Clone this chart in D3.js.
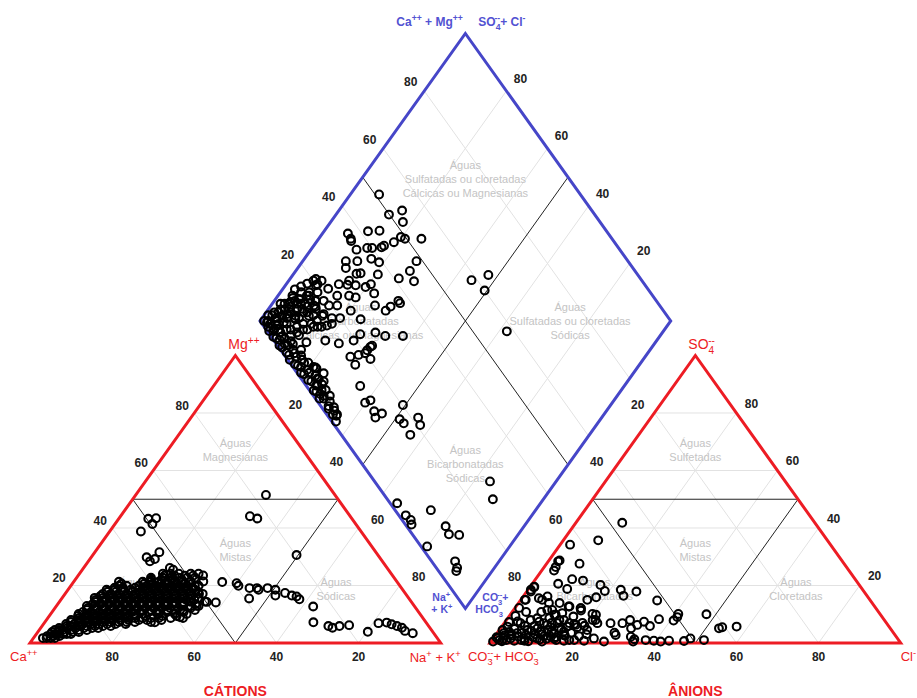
<!DOCTYPE html>
<html lang="pt">
<head>
<meta charset="utf-8" />
<title>Diagrama de Piper</title>
<script src="https://cdn.jsdelivr.net/npm/d3@7"></script>
<style>
body { margin: 0; background: #fff; }
svg { font-family: Arial, "Liberation Sans", sans-serif; }
</style>
</head>
<body>
<svg width="917" height="698"></svg>
<script>
//	tick values on every axis
const ticks = [20, 40, 60, 80];

//	cation triangle: [Mg %, Na+K %] (Ca % = the rest)
const cations = [
  [1.7,2.3],[1.7,3.2],[1.7,4.2],[1.7,5.2],
  [3.1,3.5],[3.1,4.5],[3.1,5.5],[3.1,6.5],[3.1,7.4],[3.1,8.4],
  [4.5,3.8],[4.5,4.8],[4.5,5.7],[4.5,7.7],[4.5,9.6],[4.5,11.6],
  [5.9,6.0],[5.9,7.0],[5.9,9.0],[5.9,10.9],[5.9,12.9],[5.9,14.8],[5.9,16.7],
  [7.3,6.3],[7.3,8.2],[7.3,10.2],[7.3,12.1],[7.3,14.1],[7.3,16.0],[7.3,18.0],[7.3,19.9],[7.3,21.9],[7.3,25.8],
  [8.7,7.6],[8.7,9.5],[8.7,11.5],[8.7,13.4],[8.7,15.3],[8.7,17.3],[8.7,19.2],[8.7,21.2],[8.7,23.1],[8.7,25.1],[8.7,27.0],[8.7,29.9],[8.7,32.9],
  [10.1,6.8],[10.1,8.8],[10.1,10.7],[10.1,12.7],[10.1,14.6],[10.1,16.6],[10.1,18.5],[10.1,20.5],[10.1,22.4],[10.1,26.3],[10.1,30.2],[10.1,33.1],
  [11.5,8.1],[11.5,10.1],[11.5,12.0],[11.5,13.9],[11.5,15.9],[11.5,17.8],[11.5,19.8],[11.5,21.7],[11.5,23.7],[11.5,25.6],[11.5,27.6],[11.5,29.5],[11.5,31.5],[11.5,34.4],
  [12.9,7.4],[12.9,9.3],[12.9,11.3],[12.9,13.2],[12.9,15.2],[12.9,17.1],[12.9,19.1],[12.9,21.0],[12.9,23.0],[12.9,24.9],[12.9,26.9],[12.9,28.8],[12.9,30.8],[12.9,32.7],[12.9,34.6],
  [14.3,8.7],[14.3,10.6],[14.3,12.5],[14.3,14.5],[14.3,16.4],[14.3,18.4],[14.3,20.3],[14.3,22.3],[14.3,24.2],[14.3,26.2],[14.3,28.1],[14.3,30.1],[14.3,32.0],[14.3,35.9],
  [15.7,7.9],[15.7,9.9],[15.7,11.8],[15.7,13.8],[15.7,15.7],[15.7,17.7],[15.7,19.6],[15.7,21.6],[15.7,23.5],[15.7,25.5],[15.7,27.4],[15.7,29.4],[15.7,31.3],[15.7,33.2],
  [17.1,9.2],[17.1,11.1],[17.1,13.1],[17.1,15.0],[17.1,17.0],[17.1,18.9],[17.1,20.9],[17.1,22.8],[17.1,24.8],[17.1,26.7],[17.1,28.7],[17.1,30.6],[17.1,32.6],[17.1,33.5],
  [18.5,9.4],[18.5,11.4],[18.5,13.3],[18.5,15.3],[18.5,17.2],[18.5,19.2],[18.5,21.1],[18.5,23.1],[18.5,25.0],[18.5,27.0],[18.5,28.9],[18.5,30.9],
  [19.9,11.7],[19.9,13.6],[19.9,16.6],[19.9,18.5],[19.9,20.5],[19.9,22.4],[19.9,24.4],[19.9,26.3],[19.9,28.3],[19.9,30.2],[19.9,31.1],
  [21.3,11.0],[21.3,16.8],[21.3,18.8],[21.3,20.7],[21.3,22.7],[21.3,24.6],[21.3,26.6],[21.3,28.5],
  [22.7,18.1],[22.7,21.0],[22.7,23.0],[22.7,24.9],[22.7,26.9],[22.7,28.8],
  [24.1,20.3],[24.1,22.2],[24.1,24.2],[24.1,27.1],[24.1,29.0],[25.5,22.1],
  [2.4,3.0],[2.4,4.5],[2.4,6.0],
  [3.8,3.5],[3.8,5.0],[3.8,6.5],[3.8,8.5],[3.8,10.0],
  [5.2,4.5],[5.2,6.5],[5.2,8.5],[5.2,10.5],[5.2,12.5],[5.2,14.0],
  [6.6,5.5],[6.6,7.5],[6.6,9.5],[6.6,11.5],[6.6,13.5],[6.6,15.5],[6.6,17.5],[6.6,20.0],
  [8.0,6.0],[8.0,8.0],[8.0,10.0],[8.0,12.0],[8.0,14.0],[8.0,16.0],[8.0,18.0],[8.0,20.0],[8.0,22.5],[8.0,24.5],[8.0,28.0],
  [9.4,7.0],[9.4,9.0],[9.4,11.0],[9.4,13.0],[9.4,15.0],[9.4,17.0],[9.4,19.0],[9.4,21.0],[9.4,23.5],[9.4,27.5],[9.4,31.0],
  [10.8,7.5],[10.8,9.5],[10.8,11.5],[10.8,13.5],[10.8,15.5],[10.8,17.5],[10.8,19.5],[10.8,21.5],[10.8,23.5],[10.8,25.5],[10.8,28.0],[10.8,32.0],
  [12.2,8.0],[12.2,10.0],[12.2,12.0],[12.2,14.0],[12.2,16.0],[12.2,18.0],[12.2,20.0],[12.2,22.0],[12.2,24.0],[12.2,26.0],[12.2,28.0],[12.2,30.0],[12.2,33.0],
  [13.6,8.5],[13.6,10.5],[13.6,12.5],[13.6,14.5],[13.6,16.5],[13.6,18.5],[13.6,20.5],[13.6,22.5],[13.6,24.5],[13.6,26.5],[13.6,28.5],[13.6,30.5],[13.6,33.5],
  [15.0,8.5],[15.0,10.5],[15.0,12.5],[15.0,14.5],[15.0,16.5],[15.0,18.5],[15.0,20.5],[15.0,22.5],[15.0,24.5],[15.0,26.5],[15.0,28.5],[15.0,30.5],[15.0,32.5],
  [16.4,9.0],[16.4,11.0],[16.4,13.0],[16.4,15.0],[16.4,17.0],[16.4,19.0],[16.4,21.0],[16.4,23.0],[16.4,25.0],[16.4,27.0],[16.4,29.0],[16.4,31.0],
  [17.8,10.0],[17.8,12.0],[17.8,14.0],[17.8,16.0],[17.8,18.0],[17.8,20.0],[17.8,22.0],[17.8,24.0],[17.8,26.0],[17.8,28.0],[17.8,30.0],[17.8,32.0],
  [19.2,11.0],[19.2,13.0],[19.2,16.0],[19.2,18.0],[19.2,20.0],[19.2,22.0],[19.2,24.0],[19.2,26.0],[19.2,28.0],[19.2,30.0],
  [20.6,12.0],[20.6,17.5],[20.6,19.5],[20.6,21.5],[20.6,23.5],[20.6,25.5],[20.6,27.5],
  [22.0,18.5],[22.0,21.0],[22.0,23.5],[22.0,26.0],[23.4,21.0],[23.4,23.5],[23.4,26.0],[23.4,28.0],
  [51.5,31.7],[44.1,31.5],[43.3,33.7],[43.2,7.2],[43.4,9.0],[41.4,9.1],[38.8,7.6],
  [29.8,13.5],[31.6,15.7],[29.2,15.8],[28.4,15.0],[30.6,49.6],
  [21.2,36.2],[20.8,39.9],[19.9,40.8],[19.1,43.9],[19.1,45.7],[18.5,46.4],[15.5,45.6],
  [19.1,48.3],[18.5,50.5],[16.5,51.5],[17.4,53.4],[16.5,55.5],[16.2,56.8],[15.2,58.0],
  [12.7,62.6],[7.2,65.4],[5.9,69.7],[5.3,71.0],[5.9,72.4],[6.2,74.6],[3.9,80.3],
  [6.9,81.4],[7.1,83.3],[6.5,84.8],[5.9,86.4],[5.3,87.9],[4.2,89.2],[3.4,91.5],
  [26.1,21.0],[23.5,30.4],[21.4,31.5],[14.1,38.2],[12.9,34.1],[9.0,32.0],[7.2,26.8],[14.4,35.4]
];

//	anion triangle: [SO4 %, Cl %] (CO3+HCO3 % = the rest)
const anions = [
  [41.8,11.3],[35.7,8.5],[34.2,2.4],[28.4,2.4],[28.7,2.6],[25.2,3.0],[26.4,2.8],[27.6,8.0],
  [20.6,6.3],[18.8,9.4],[22.2,8.9],[21.7,11.8],[20.2,16.8],[18.1,18.9],[18.5,22.6],[16.4,24.3],
  [17.9,26.7],[14.8,33.3],[10.1,40.8],[9.0,41.1],[7.8,40.8],[10.0,47.7],[5.1,53.2],[5.5,53.8],
  [5.7,57.2],[1.6,48.0],[1.0,51.6],[15.9,17.9],[15.0,16.2],[12.1,16.0],[11.3,16.5],[10.1,19.9],
  [8.0,21.7],[6.9,22.7],[6.9,25.9],[6.9,28.8],[8.0,30.1],[5.1,31.8],[6.3,32.7],[7.4,33.8],
  [5.9,36.0],[8.3,37.0],[3.6,28.5],[2.8,29.2],[2.2,33.2],[1.3,34.5],[0.5,34.6],[1.0,37.4],
  [0.8,39.5],[0.5,41.3],[0.8,43.2],[0.7,46.9],[0.5,27.5],[0.8,22.5],[1.6,24.5],[1.0,20.0],
  [0.8,17.6],[1.6,14.8],[12.7,12.8],[10.4,12.4],[9.2,15.7],[6.3,17.7],[5.7,16.0],[5.1,14.2],
  [8.0,14.0],[6.9,13.0],[18.5,0.7],[19.4,1.0],[15.0,1.2],[15.6,4.1],[15.0,5.2],[16.2,5.9],
  [13.9,7.4],[11.5,9.4],[9.8,11.1],[11.5,8.2],[5.7,1.4],[6.9,4.0],[8.0,5.9],[8.6,7.2],
  [6.9,9.7],[3.4,1.7],[3.4,4.9],[4.5,6.8],[5.1,9.0],[4.5,11.7],[3.4,13.9],[1.6,1.0],
  [1.6,4.2],[1.6,7.5],[1.6,10.7],[2.2,13.7],[2.8,16.6],[7.4,8.3],[9.8,10.8],[8.0,12.9],
  [6.9,15.9],[6.6,17.2],[8.0,21.0],[9.8,20.9],[12.1,16.1],[12.7,13.0],[13.9,10.0],[19.6,1.0],
  [17.9,1.0],[15.0,1.0],[1.0,1.8],[1.0,3.5],[3.1,3.7],[4.9,3.5],[1.0,7.1],[2.8,7.4],
  [4.2,8.0],[5.9,7.9],[2.4,12.0],[6.3,10.8],[1.0,15.6],[4.9,14.9],[10.8,7.1],[8.7,10.1],
  [10.8,3.4],[12.2,1.0],[9.4,1.5],[7.3,1.0],[4.5,0.8],[1.0,18.8],[2.4,20.5],[4.5,21.4],
  [0.5,0.5],[2.0,0.6],[0.6,2.6],[2.6,2.2],[3.8,2.8],[0.8,5.5],[2.2,5.8],[3.0,9.5],
  [0.6,9.0],[0.5,12.4],[1.2,11.5],[2.0,15.0],[3.5,18.0],[4.0,10.5],[6.0,5.5],[7.5,3.0],
  [1.5,2.5],[2.5,4.0],[3.5,6.0],[0.8,8.0],[2.0,9.5],[3.0,11.0],[1.5,13.0],[4.0,13.0],
  [5.5,12.0],[7.0,11.5],[2.5,17.0],[4.0,16.0],[5.5,18.5],[7.0,19.0],[3.0,22.0],[6.0,20.0]
];

//	diamond: [Na+K %, SO4+Cl %]
const diamond = [
  [7.0,51.0],[12.9,49.9],[15.4,53.8],[17.6,52.0],[6.2,36.6],[7.8,36.4],[8.3,36.1],[10.7,41.9],
  [13.4,44.8],[13.4,38.8],[14.6,40.0],[16.8,42.4],[17.1,43.3],[18.9,46.3],[19.7,48.9],[21.0,49.6],
  [25.0,53.6],[11.1,35.9],[10.5,31.3],[11.7,30.1],[13.3,34.1],[16.3,37.9],[18.8,39.2],[20.6,36.8],
  [27.7,48.5],[27.8,45.2],[30.6,44.4],[26.4,41.2],[15.3,31.7],[16.2,32.8],[14.7,28.7],[17.1,29.5],
  [15.0,27.6],[19.8,31.6],[20.6,33.4],[12.8,25.6],[11.0,22.2],[14.4,23.2],[17.3,26.1],[19.2,27.4],
  [23.0,32.6],[25.3,30.7],[28.8,32.4],[29.3,34.3],[30.2,37.2],[31.0,37.2],[6.3,20.9],[7.6,20.4],
  [7.4,19.8],[44.4,58.6],[47.6,63.6],[49.4,60.0],[24.2,24.8],[61.9,58.3],
  [3.5,12.3],[5.7,13.3],[7.5,16.3],[10.1,17.1],[5.0,9.2],[8.2,12.4],[11.5,15.7],[14.1,19.5],
  [4.5,6.3],[7.8,9.6],[11.0,12.8],[14.3,16.1],[16.1,21.5],[20.3,23.9],[1.9,1.5],[4.9,3.3],
  [5.4,7.8],[6.9,11.1],[4.1,10.7],[6.0,13.6],[7.0,15.8],[8.4,16.0],[10.4,15.8],[9.1,12.1],
  [8.3,8.9],[6.0,5.6],[3.5,4.7],[13.8,13.9],[14.3,16.7],[17.1,15.5],
  [19.3,12.5],[23.1,15.3],[26.2,19.4],[26.7,22.1],[30.1,26.1],[33.1,27.9],[37.4,32.2],
  [28.2,15.8],[30.8,15.6],[29.9,18.1],[31.2,20.0],[31.4,22.4],[31.6,23.0],[33.5,20.3],[31.2,21.0],
  [15.0,7.6],[21.6,5.4],[24.6,6.4],[24.4,4.2],[26.1,4.1],[28.5,2.5],[31.5,1.9],[33.7,2.5],
  [35.1,2.1],[24.9,2.9],[25.2,1.0],[27.4,2.0],[35.7,13.1],[39.8,11.4],[40.7,13.1],[43.5,12.1],
  [45.8,13.6],[44.9,11.3],[49.4,20.2],[51.1,16.9],[52.8,17.2],[56.4,16.8],[55.3,21.7],[57.1,20.9],
  [83.9,28.1],[87.7,25.7],[65.1,1.7],[69.3,1.7],[71.3,2.1],[72.3,1.5],[74.5,8.7],[80.9,9.5],
  [83.1,8.9],[85.7,11.3],[79.9,1.5],[89.3,5.7],[90.9,5.1],[91.3,4.3],
  [3,1],[5,2],[6,0.5],[8,1.5],[9,3],[10,0.8],[11,2.5],[12,4],[13,1.2],[14,2.8],[15,5],[16,1],
  [17,3.5],[18,2],[19,4.5],[20,1.5],[21,3],[22,5.5],[23,2],[24,4],[26,1.5],[27,3],[29,2],[30,4],
  [32,1.5],[33,3],[35,2.5],[36,1],
  [1,3],[2,5],[2,8],[3,2],[4,10],[3,7],[5,4],[6,9],[7,6],[1,1],[2,2],[4,4],[5,12],[6,3],[8,5],
  [9,14],[10,8],[11,10],[12,7],[7,13],[10,17],[12,19],[13,12],[4,16],[5,18],[8,22],[3,14],[6,20],
  [4,0.5],[5,1.5],[7,1],[7,3],[8,2.5],[9,0.5],[10,2],[11,4],[12,1],[13,3],[14,0.5],[15,2.5],
  [16,4],[17,1.5],[18,3.5],[19,1],[20,3],[21,5],[22,1.5],[23,4],[25,2.5],[26,5],[28,1],[28,4],
  [31,3],[34,1.5],
  [2,4],[3,6],[4,8],[5,10],[6,12],[7,11],[8,14],[9,10],[10,13],[11,16],[12,14],[6,7],[8,9],
  [9,6],[10,5],[11,7],[12,9],[13,10],[14,12],[15,13],[16,14],[17,18],[18,17],[19,20],[3,9],
  [4,12],[5,15],[7,17],[9,19]
];

//	layout in equilateral units: side 100, gap 12 between the triangles
var H = Math.sqrt(3) / 2 * 100,
	gap = 12,
	dv = gap * Math.sqrt(3) / 2;

var svg = d3.select("svg");
var x = d3.scaleLinear().domain([0, 212]).range([30, 900.7]);
var y = d3.scaleLinear().domain([0, 100]).range([643, 311]);

var red = "#ed1c24", blue = "#4646c8", blueText = "#5252d2";

//	a = bottom-left, b = bottom-right, c = top
function triPt(ox, a, b, c) { return [ox + b + c / 2, c * H / 100]; }
function catPt(ca, mg, nak) { return triPt(0, ca, nak, mg); }
function anPt(co3, so4, cl) { return triPt(100 + gap, co3, cl, so4); }
function diaPt(nak, sc) {
	var L = [50 + gap / 2, dv + H], D = [100 + gap / 2, dv], T = [100 + gap / 2, dv + 2 * H];
	return [L[0] + nak / 100 * (D[0] - L[0]) + sc / 100 * (T[0] - L[0]),
		L[1] + nak / 100 * (D[1] - L[1]) + sc / 100 * (T[1] - L[1])];
}
function px(p) { return [x(p[0]), y(p[1])]; }

var line = d3.line().x(d => x(d[0])).y(d => y(d[1]));

//	grid
var grid = svg.append("g").attr("stroke", "#e2e2e2").attr("stroke-width", 1).attr("fill", "none");
ticks.forEach(function(f) {
	[catPt, anPt].forEach(function(fn) {
		grid.append("path").attr("d", line([fn(100 - f, f, 0), fn(0, f, 100 - f)]));
		grid.append("path").attr("d", line([fn(f, 100 - f, 0), fn(f, 0, 100 - f)]));
		grid.append("path").attr("d", line([fn(0, 100 - f, f), fn(100 - f, 0, f)]));
	});
	grid.append("path").attr("d", line([diaPt(f, 0), diaPt(f, 100)]));
	grid.append("path").attr("d", line([diaPt(0, f), diaPt(100, f)]));
});

//	classification lines
var cls = svg.append("g").attr("stroke", "#222").attr("stroke-width", 1).attr("fill", "none");
[catPt, anPt].forEach(function(fn) {
	cls.append("path").attr("d", line([fn(50, 50, 0), fn(0, 50, 50)]));
	cls.append("path").attr("d", line([fn(50, 50, 0), fn(50, 0, 50)]));
	cls.append("path").attr("d", line([fn(0, 50, 50), fn(50, 0, 50)]));
});
cls.append("path").attr("d", line([diaPt(50, 0), diaPt(50, 100)]));
cls.append("path").attr("d", line([diaPt(0, 50), diaPt(100, 50)]));

//	region names
var regions = [
	[50, 58.0, ["Águas", "Magnesianas"]],
	[50, 28.0, ["Águas", "Mistas"]],
	[25.5, 16.1, ["Águas", "Cálcicas"]],
	[74.5, 16.1, ["Águas", "Sódicas"]],
	[162, 58.0, ["Águas", "Sulfetadas"]],
	[162, 28.0, ["Águas", "Mistas"]],
	[137.5, 16.1, ["Águas", "Bicarbonatadas"]],
	[186.5, 16.1, ["Águas", "Cloretadas"]],
	[106, 139.8, ["Águas", "Sulfatadas ou cloretadas", "Cálcicas ou Magnesianas"]],
	[131.5, 97, ["Águas", "Sulfatadas ou cloretadas", "Sódicas"]],
	[106, 53.9, ["Águas", "Bicarbonatadas", "Sódicas"]],
	[80.5, 97, ["Águas", "Bicarbonatadas", "Cálcicas ou Magnesianas"]]
];
var reg = svg.append("g").attr("fill", "#c4c4c4").attr("font-size", 11).attr("text-anchor", "middle");
regions.forEach(function(r) {
	var n = r[2].length;
	r[2].forEach(function(s, i) {
		reg.append("text")
			.attr("x", x(r[0]))
			.attr("y", y(r[1]) + (i - (n - 1) / 2) * 14)
			.attr("dy", "0.35em")
			.text(s);
	});
});

//	outlines
svg.append("path").attr("d", line([catPt(100, 0, 0), catPt(0, 0, 100), catPt(0, 100, 0)]) + "Z")
	.attr("fill", "none").attr("stroke", red).attr("stroke-width", 3);
svg.append("path").attr("d", line([anPt(100, 0, 0), anPt(0, 0, 100), anPt(0, 100, 0)]) + "Z")
	.attr("fill", "none").attr("stroke", red).attr("stroke-width", 3);
svg.append("path").attr("d", line([diaPt(0, 0), diaPt(0, 100), diaPt(100, 100), diaPt(100, 0)]) + "Z")
	.attr("fill", "none").attr("stroke", blue).attr("stroke-width", 3);

//	points
var pts = []
	.concat(cations.map(d => catPt(100 - d[0] - d[1], d[0], d[1])))
	.concat(anions.map(d => anPt(100 - d[0] - d[1], d[0], d[1])))
	.concat(diamond.map(d => diaPt(d[0], d[1])));
svg.append("g").selectAll("circle").data(pts).enter().append("circle")
	.attr("cx", d => x(d[0]))
	.attr("cy", d => y(d[1]))
	.attr("r", 3.9)
	.attr("fill", "none")
	.attr("stroke", "#000")
	.attr("stroke-width", 2.1);

//	tick labels
var axes = [
	[f => catPt(100 - f, f, 0), -12, -7.5],
	[f => catPt(f, 0, 100 - f), 0, 14],
	[f => catPt(0, 100 - f, f), 19, -8.5],
	[f => anPt(f, 100 - f, 0), -16.5, -8.5],
	[f => anPt(100 - f, 0, f), 0, 14],
	[f => anPt(0, f, 100 - f), 15, -9.5],
	[f => diaPt(0, f), -13.5, -9],
	[f => diaPt(100 - f, 100), 14, -12.5]
];
var tk = svg.append("g").attr("font-size", 12).attr("font-weight", "bold")
	.attr("fill", "#222").attr("text-anchor", "middle");
axes.forEach(function(a) {
	ticks.forEach(function(f) {
		var p = px(a[0](f));
		tk.append("text").attr("x", p[0] + a[1]).attr("y", p[1] + a[2]).attr("dy", "0.35em").text(f);
	});
});

//	labels with super/subscripts
function rich(px0, py0, parts, size, color, weight) {
	var t = svg.append("text").attr("x", px0).attr("y", py0)
		.attr("font-size", size).attr("fill", color).attr("font-weight", weight || "normal");
	var shift = 0;
	parts.forEach(function(p) {
		var s = typeof p === "string" ? { t: p } : p;
		var target = s.s === "sup" ? -size * 0.42 : s.s === "sub" ? size * 0.3 : 0;
		t.append("tspan")
			.attr("font-size", s.s ? size * 0.72 : size)
			.attr("dx", s.dx || 0)
			.attr("dy", target - shift)
			.text(s.t);
		shift = target;
	});
	return t;
}

var vCa = px(catPt(100, 0, 0)), vNa = px(catPt(0, 0, 100)), vMg = px(catPt(0, 100, 0));
var vCo = px(anPt(100, 0, 0)), vCl = px(anPt(0, 0, 100)), vSo = px(anPt(0, 100, 0));
var dTop = px(diaPt(0, 100)), dBot = px(diaPt(100, 0));

rich(vCa[0] - 20, vCa[1] + 18, ["Ca", { t: "++", s: "sup" }], 13, red);
rich(vNa[0] - 31, vNa[1] + 19, ["Na", { t: "+", s: "sup" }, " + K", { t: "+", s: "sup" }], 13, red);
rich(vMg[0] - 7, vMg[1] - 6, ["Mg", { t: "++", s: "sup" }], 14, red);
rich(vSo[0] - 7, vSo[1] - 6, ["SO", { t: "4", s: "sub" }, { t: "--", s: "sup", dx: -6 }], 14, red);
rich(vCo[0] - 22, vCo[1] + 18, ["CO", { t: "3", s: "sub" }, { t: "--", s: "sup", dx: -5.5 }, "+ HCO",
	{ t: "3", s: "sub" }, { t: "-", s: "sup", dx: -5.5 }], 13, red);
rich(vCl[0], vCl[1] + 18, ["Cl", { t: "-", s: "sup" }], 13, red);

rich(dTop[0] - 69, dTop[1] - 7, ["Ca", { t: "++", s: "sup" }, { t: " + Mg" }, { t: "++", s: "sup" }], 12, blueText, "bold");
rich(dTop[0] + 13, dTop[1] - 7, ["SO", { t: "4", s: "sub" }, { t: "--", s: "sup", dx: -6 }, "+ Cl", { t: "-", s: "sup" }], 12, blueText, "bold");

rich(dBot[0] - 33, dBot[1] - 7, ["Na", { t: "+", s: "sup" }], 10.5, blueText, "bold");
rich(dBot[0] - 34, dBot[1] + 5, ["+ K", { t: "+", s: "sup" }], 10.5, blueText, "bold");
rich(dBot[0] + 17, dBot[1] - 7, ["CO", { t: "3", s: "sub" }, { t: "--", s: "sup", dx: -5 }, "+"], 10.5, blueText, "bold");
rich(dBot[0] + 10, dBot[1] + 5, ["HCO", { t: "3", s: "sub" }], 10.5, blueText, "bold");

svg.append("text").attr("x", vMg[0]).attr("y", 696).attr("text-anchor", "middle")
	.attr("font-size", 14).attr("font-weight", "bold").attr("fill", red).text("CÁTIONS");
svg.append("text").attr("x", vSo[0]).attr("y", 696).attr("text-anchor", "middle")
	.attr("font-size", 14).attr("font-weight", "bold").attr("fill", red).text("ÂNIONS");
</script>
</body>
</html>
